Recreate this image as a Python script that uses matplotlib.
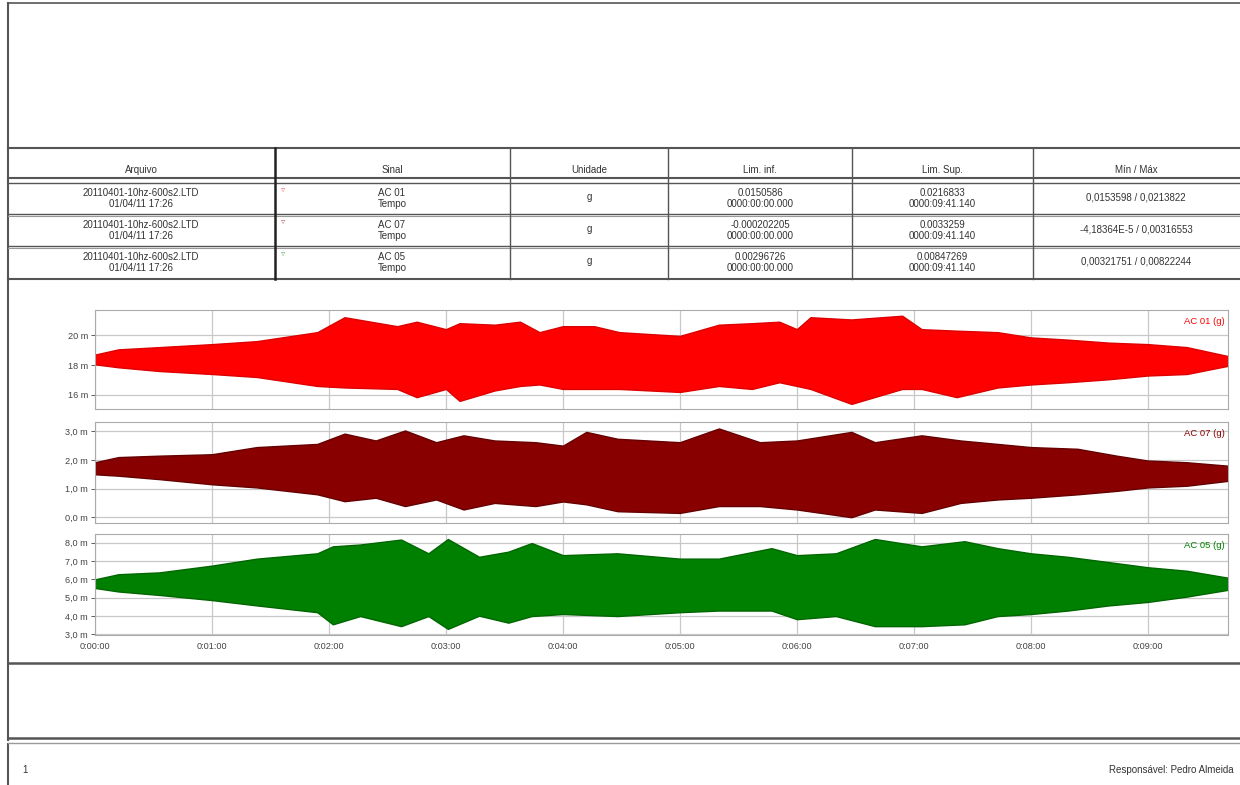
import numpy as np
import matplotlib
matplotlib.use("Agg")
import matplotlib.pyplot as plt
from matplotlib.ticker import FuncFormatter

plt.rcParams['font.family'] = ['Liberation Sans', 'DejaVu Sans']

# table contents
headers = ["Arquivo", "Sinal", "Unidade", "Lim. inf.", "Lim. Sup.", "Mín / Máx"]
file_name = "20110401-10hz-600s2.LTD"
file_date = "01/04/11 17:26"
signals = ["AC 01", "AC 07", "AC 05"]
units = ["g", "g", "g"]
lim_inf = [0.0150586, -0.000202205, 0.00296726]
lim_inf_txt = ["0.0150586", "-0.000202205", "0.00296726"]
lim_sup = [0.0216833, 0.0033259, 0.00847269]
lim_sup_txt = ["0.0216833", "0.0033259", "0.00847269"]
minmax_txt = ["0,0153598 / 0,0213822", "-4,18364E-5 / 0,00316553", "0,00321751 / 0,00822244"]
t_start = "0000:00:00.000"
t_end = "0000:09:41.140"
colors = ["#ff0000", "#880000", "#008000"]
edge_colors = ["#dd0000", "#660000", "#006600"]
t_total = 581.14

# envelopes (time in s, values in milli-g)
t1 = [0, 12, 33, 60, 83, 114, 128, 155, 165, 180, 187, 205, 218, 228, 240, 256, 269,
      300, 320, 337, 351, 360, 367, 388, 414, 424, 442, 463, 480, 499, 520, 540, 560, 581.14]
up1 = [18.7, 19.05, 19.2, 19.4, 19.6, 20.2, 21.2, 20.6, 20.9, 20.4, 20.8, 20.7, 20.9, 20.2, 20.6, 20.6, 20.2,
       19.95, 20.7, 20.8, 20.9, 20.4, 21.2, 21.05, 21.3, 20.4, 20.3, 20.2, 19.85, 19.7, 19.5, 19.4, 19.2, 18.6]
lo1 = [18.05, 17.85, 17.6, 17.4, 17.2, 16.6, 16.5, 16.4, 15.85, 16.4, 15.6, 16.3, 16.6, 16.7, 16.4, 16.4, 16.4,
       16.2, 16.6, 16.4, 16.85, 16.6, 16.4, 15.4, 16.4, 16.4, 15.85, 16.5, 16.7, 16.85, 17.05, 17.3, 17.4, 17.95]

t2 = [0, 12, 33, 60, 83, 114, 128, 144, 159, 175, 189, 205, 226, 240, 252, 268,
      300, 320, 341, 360, 388, 400, 424, 444, 463, 480, 504, 524, 540, 560, 581.14]
up2 = [1.92, 2.1, 2.15, 2.2, 2.45, 2.56, 2.92, 2.68, 3.03, 2.62, 2.86, 2.68, 2.62, 2.5, 2.98, 2.74,
       2.62, 3.1, 2.62, 2.68, 2.98, 2.62, 2.86, 2.68, 2.56, 2.45, 2.39, 2.15, 1.98, 1.92, 1.8]
lo2 = [1.5, 1.45, 1.33, 1.15, 1.04, 0.8, 0.56, 0.68, 0.39, 0.62, 0.27, 0.5, 0.39, 0.55, 0.45, 0.21,
       0.15, 0.39, 0.39, 0.27, 0.0, 0.27, 0.15, 0.5, 0.62, 0.68, 0.8, 0.92, 1.04, 1.1, 1.27]

t3 = [0, 12, 33, 60, 83, 114, 122, 136, 157, 171, 181, 197, 212, 224, 240, 268,
      300, 320, 347, 360, 380, 400, 424, 446, 463, 480, 499, 520, 540, 560, 581.14]
up3 = [6.0, 6.28, 6.38, 6.75, 7.13, 7.42, 7.8, 7.9, 8.17, 7.42, 8.2, 7.23, 7.51, 7.98, 7.32, 7.42,
       7.13, 7.13, 7.7, 7.32, 7.42, 8.2, 7.8, 8.08, 7.7, 7.42, 7.23, 6.94, 6.66, 6.47, 6.09]
lo3 = [5.53, 5.34, 5.15, 4.87, 4.58, 4.21, 3.55, 4.0, 3.45, 4.0, 3.3, 4.02, 3.64, 4.0, 4.11, 4.0,
       4.21, 4.3, 4.3, 3.83, 4.0, 3.45, 3.45, 3.55, 4.0, 4.11, 4.3, 4.58, 4.77, 5.06, 5.43]

envelopes = [(t1, up1, lo1), (t2, up2, lo2), (t3, up3, lo3)]
yticks = [[16, 18, 20], [0, 1, 2, 3], [3, 4, 5, 6, 7, 8]]
yfmt = [lambda v, p: "%d m" % v, lambda v, p: ("%.1f m" % v).replace(".", ","),
        lambda v, p: ("%.1f m" % v).replace(".", ",")]

fig = plt.figure(figsize=(12.4, 7.85), dpi=100)

# page layout in pixels
bg = fig.add_axes([0, 0, 1, 1], zorder=0)
bg.set_xlim(0, 1240)
bg.set_ylim(785, 0)
bg.axis("off")
lc = "#555555"
bg.plot([8, 1240], [3, 3], color=lc, lw=1.2)
bg.plot([8, 8], [3, 740], color=lc, lw=1.5)
bg.plot([8, 8], [744, 785], color=lc, lw=1.5)
bg.plot([8, 1240], [148, 148], color=lc, lw=1.5)
bg.plot([8, 1240], [178, 178], color=lc, lw=1.5)
bg.plot([8, 1240], [183, 183], color=lc, lw=1.0)
for yy in [214, 246]:
    bg.plot([8, 1240], [yy, yy], color=lc, lw=1.0)
    bg.plot([8, 1240], [yy + 2, yy + 2], color="#999999", lw=0.8)
bg.plot([8, 1240], [279, 279], color=lc, lw=1.5)
bg.plot([275, 275], [148, 279], color="#222222", lw=1.8)
for xx in [510, 668, 852, 1033]:
    bg.plot([xx, xx], [148, 279], color=lc, lw=1.0)
bg.plot([8, 1240], [663, 663], color=lc, lw=1.8)
bg.plot([8, 1240], [738, 738], color=lc, lw=1.8)
bg.plot([8, 1240], [743, 743], color="#999999", lw=1.0)

tc = "#333333"
fs = 7
col_x = [141, 392, 589, 760, 942, 1136]
for x, h in zip(col_x, headers):
    bg.text(x, 170, h, ha="center", va="center", fontsize=fs, color=tc)
for i in range(3):
    y1 = 193 + 32 * i
    y2 = y1 + 11
    bg.text(141, y1, file_name, ha="center", va="center", fontsize=fs, color=tc)
    bg.text(141, y2, file_date, ha="center", va="center", fontsize=fs, color=tc)
    bg.text(283, y1 - 3, "\u25bf", ha="center", va="center", fontsize=6, color=colors[i], alpha=0.6)
    bg.text(392, y1, signals[i], ha="center", va="center", fontsize=fs, color=tc)
    bg.text(392, y2, "Tempo", ha="center", va="center", fontsize=fs, color=tc)
    bg.text(589, y1 + 4, units[i], ha="center", va="center", fontsize=fs, color=tc)
    bg.text(760, y1, lim_inf_txt[i], ha="center", va="center", fontsize=fs, color=tc)
    bg.text(760, y2, t_start, ha="center", va="center", fontsize=fs, color=tc)
    bg.text(942, y1, lim_sup_txt[i], ha="center", va="center", fontsize=fs, color=tc)
    bg.text(942, y2, t_end, ha="center", va="center", fontsize=fs, color=tc)
    bg.text(1136, y1 + 4, minmax_txt[i], ha="center", va="center", fontsize=fs, color=tc)

bg.text(22, 770, "1", ha="left", va="center", fontsize=fs, color=tc)
bg.text(1234, 770, "Responsável: Pedro Almeida", ha="right", va="center", fontsize=fs, color=tc)

# signal panels
boxes = [(310, 409), (422, 523), (534, 635)]
for i, (top, bot) in enumerate(boxes):
    ax = fig.add_axes([95 / 1240, 1 - bot / 785, 1133 / 1240, (bot - top) / 785], zorder=1)
    t, up, lo = envelopes[i]
    ax.fill_between(t, lo, up, facecolor=colors[i], lw=1.0, edgecolor=edge_colors[i], zorder=2)
    ax.set_xlim(0, t_total)
    ax.set_ylim(lim_inf[i] * 1000, lim_sup[i] * 1000)
    ax.set_yticks(yticks[i])
    ax.yaxis.set_major_formatter(FuncFormatter(yfmt[i]))
    ax.set_xticks(np.arange(0, 541, 60))
    ax.xaxis.set_major_formatter(FuncFormatter(lambda v, p: "0:%02d:00" % (v // 60)))
    ax.grid(True, color="#c8c8c8", lw=0.9, zorder=1)
    ax.set_axisbelow(True)
    for s in ax.spines.values():
        s.set_color("#aaaaaa")
    ax.tick_params(axis="both", labelsize=6.6, colors="#444444", length=3, width=0.6, pad=2)
    ax.tick_params(axis="x", length=0, pad=5)
    if i < 2:
        ax.set_xticklabels([])
    ax.text(0.997, 0.93, signals[i] + " (g)", transform=ax.transAxes, ha="right", va="top",
            fontsize=6.8, color=colors[i], zorder=3)

fig.savefig("out.png", dpi=100)
